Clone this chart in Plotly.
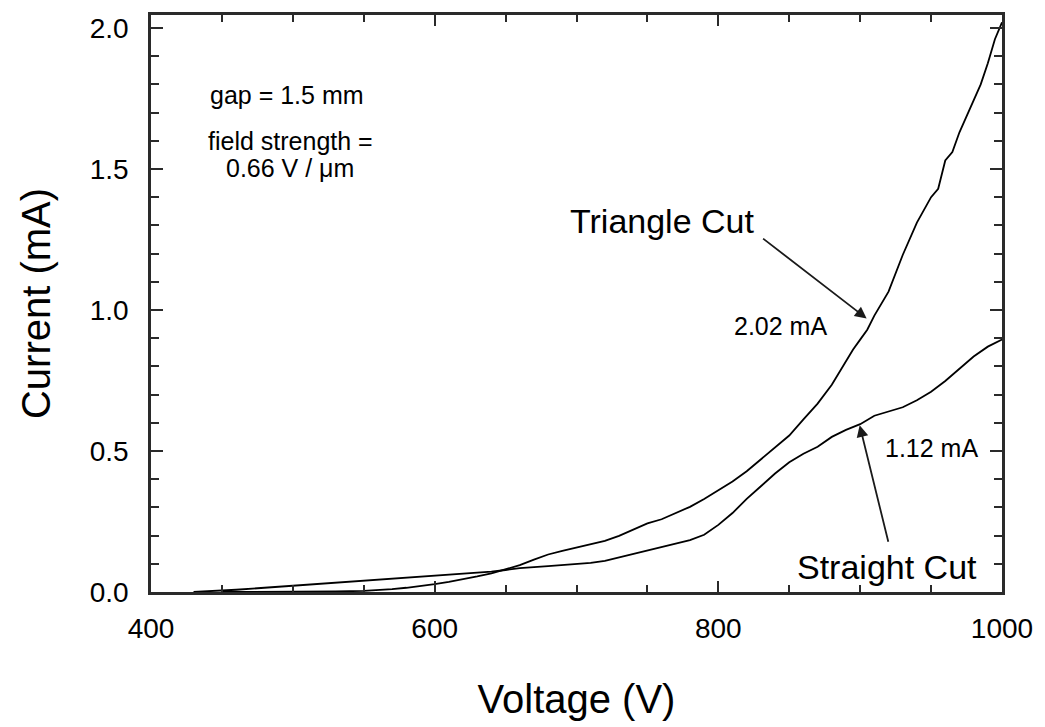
import plotly.graph_objects as go

# Triangle Cut series (Voltage V, Current mA)
tri_v = [450, 470, 490, 510, 530, 550, 560, 570, 580, 590, 600, 610, 620, 630, 640, 650,
         660, 670, 680, 690, 700, 710, 720, 730, 740, 750, 760, 770, 780, 790, 800,
         810, 820, 830, 840, 850, 860, 870, 880, 890, 895, 900, 905, 910, 920, 930, 940, 950,
         955, 960, 965, 970, 980, 985, 990, 995, 1000]
tri_i = [0.0, 0.0, 0.001, 0.001, 0.002, 0.004, 0.006, 0.010, 0.015, 0.021, 0.028, 0.036, 0.045, 0.055, 0.066, 0.080,
         0.095, 0.115, 0.133, 0.146, 0.158, 0.170, 0.181, 0.199, 0.222, 0.243, 0.258, 0.279, 0.302, 0.330, 0.362,
         0.392, 0.428, 0.470, 0.510, 0.555, 0.612, 0.668, 0.735, 0.820, 0.860, 0.895, 0.930, 0.980, 1.065, 1.195, 1.310, 1.400,
         1.430, 1.530, 1.560, 1.630, 1.745, 1.800, 1.875, 1.960, 2.020]

# Straight Cut series (Voltage V, Current mA)
str_v = [430, 440, 460, 480, 500, 520, 540, 560, 580, 600, 620, 640, 650, 660, 680, 700,
         710, 720, 730, 740, 750, 760, 770, 780, 790, 800, 810, 820, 830, 840, 850,
         860, 870, 880, 890, 900, 910, 920, 930, 940, 950, 960, 970, 980, 990, 1000]
str_i = [0.0, 0.002, 0.008, 0.015, 0.022, 0.030, 0.037, 0.045, 0.052, 0.058, 0.064, 0.072, 0.078, 0.085, 0.092, 0.098,
         0.103, 0.110, 0.122, 0.135, 0.148, 0.160, 0.172, 0.184, 0.203, 0.238, 0.280, 0.330, 0.375, 0.420, 0.460,
         0.490, 0.515, 0.550, 0.575, 0.595, 0.625, 0.640, 0.655, 0.680, 0.710, 0.748, 0.790, 0.835, 0.870, 0.895]

x_ticks = [400, 600, 800, 1000]
y_ticks = [0.0, 0.5, 1.0, 1.5, 2.0]
y_tick_labels = ["0.0", "0.5", "1.0", "1.5", "2.0"]

FONT = "Arial, Liberation Sans, sans-serif"
AX = "#2a2a2a"

fig = go.Figure()
fig.add_trace(go.Scatter(x=tri_v, y=tri_i, mode="lines", name="Triangle Cut",
                         line=dict(color="black", width=1.8), showlegend=False))
fig.add_trace(go.Scatter(x=str_v, y=str_i, mode="lines", name="Straight Cut",
                         line=dict(color="black", width=1.8), showlegend=False))

axis_common = dict(showline=True, linecolor=AX, linewidth=2.5, mirror="ticks",
                   ticks="inside", tickcolor=AX, tickwidth=2, showgrid=False, zeroline=False,
                   tickfont=dict(family=FONT, size=28, color="black"))

fig.update_xaxes(range=[400, 1000], tickvals=x_ticks, ticklen=11,
                 minor=dict(dtick=50, ticks="inside", ticklen=7, tickwidth=2, tickcolor=AX, showgrid=False),
                 title=dict(text="Voltage (V)", font=dict(family=FONT, size=40, color="black"), standoff=42),
                 ticklabelstandoff=10,
                 **axis_common)
fig.update_yaxes(range=[0, 2.046], tickvals=y_ticks, ticktext=y_tick_labels, ticklen=12,
                 minor=dict(dtick=0.1, ticks="inside", ticklen=8, tickwidth=2, tickcolor=AX, showgrid=False),
                 title=dict(text="Current (mA)", font=dict(family=FONT, size=40, color="black"), standoff=27),
                 ticklabelstandoff=14,
                 **axis_common)

W, H = 1045, 727
L, R, T, B = 151, 1006, 14, 592

def px(xp, yp):
    return dict(x=(xp - L) / (R - L), y=(B - yp) / (B - T), xref="paper", yref="paper")

anns = []
def text(s, xp, yp, size):
    d = px(xp, yp)
    d.update(text=s, showarrow=False, xanchor="center", yanchor="middle",
             font=dict(family=FONT, size=size, color="black"))
    anns.append(d)

text("gap = 1.5 mm", 288, 94, 25)
text("field strength =", 291, 140, 25)
text("0.66 V / \u03bcm", 291, 167, 25)
text("Triangle Cut", 664, 220, 34)
text("2.02 mA", 783, 326, 25)
text("1.12 mA", 935, 448, 25)
text("Straight Cut", 890, 567, 34)

def arrow(x0, y0, x1, y1):
    h = px(x1, y1)
    h.update(ax=x0 - x1, ay=y0 - y1, axref="pixel", ayref="pixel", showarrow=True,
             arrowhead=2, arrowsize=1.3, arrowwidth=1.8, arrowcolor="#1a1a1a", text="")
    anns.append(h)

arrow(765, 237, 870, 318)
arrow(892, 543, 863, 425)

fig.update_layout(width=W, height=H, margin=dict(l=L, r=W - R, t=T, b=H - B),
                  paper_bgcolor="white", plot_bgcolor="white", annotations=anns,
                  font=dict(family=FONT, color="black"))

fig.write_html("out.html")
